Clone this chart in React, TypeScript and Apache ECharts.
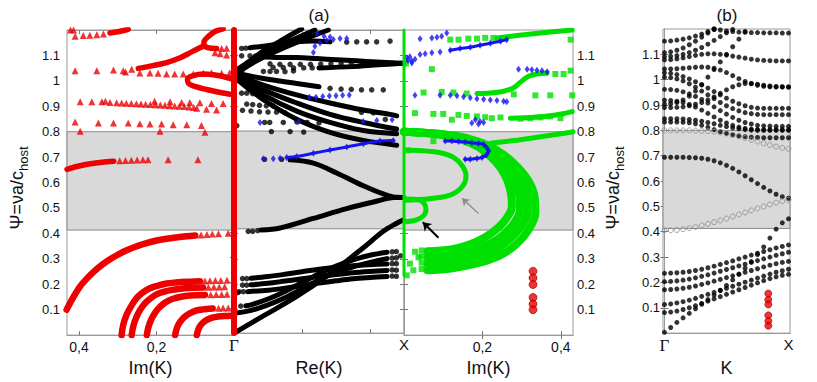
import React, { useEffect, useRef } from "react";
import * as echarts from "echarts";

// ---------------- tick labels / shared values ----------------
const Y_TICKS = [0.1, 0.2, 0.3, 0.4, 0.5, 0.6, 0.7, 0.8, 0.9, 1, 1.1];
const IM_TICKS = [0.2, 0.4];
const RE_TICKS = [0.4, 0.8];
const GX_LABELS = [0, 1];
const BAND = [0.413, 0.8];

// ---------------- panel (a), left: Im(K), red ----------------
const RED_TOP = [[0.32, 1.188], [0.3, 1.193], [0.285, 1.198], [0.273, 1.203]];
const RED_NOSE = [[0.028, 1.205], [0.049, 1.194], [0.066, 1.175], [0.077, 1.156], [0.078, 1.142], [0.068, 1.131], [0.045, 1.127]];
const RED_RISE = [[0.247, 1.049], [0.209, 1.06], [0.174, 1.072], [0.139, 1.091], [0.109, 1.114], [0.088, 1.13], [0.078, 1.138]];
const RED_LOOP = [[0.006, 1.008], [0.028, 1.017], [0.053, 1.024], [0.079, 1.027], [0.105, 1.021], [0.12, 1.008], [0.118, 0.991], [0.101, 0.978], [0.071, 0.966], [0.041, 0.956], [0.011, 0.947]];
const RED_GAP = [[0.431, 0.652], [0.4, 0.665], [0.37, 0.674], [0.34, 0.68], [0.31, 0.684]];
const RED_BIG = [[0.432, 0.1], [0.415, 0.148], [0.398, 0.19], [0.38, 0.222], [0.363, 0.248], [0.34, 0.277], [0.32, 0.298], [0.3, 0.316], [0.277, 0.334], [0.25, 0.35], [0.226, 0.362], [0.2, 0.372], [0.174, 0.379], [0.15, 0.384], [0.122, 0.389], [0.1, 0.392]];
const RED_ARC1 = [[0.29, 0.0], [0.286, 0.04], [0.277, 0.081], [0.265, 0.115], [0.251, 0.146], [0.235, 0.168], [0.217, 0.184], [0.195, 0.195], [0.174, 0.203], [0.15, 0.207], [0.122, 0.21], [0.088, 0.212]];
const RED_ARC2 = [[0.264, 0.0], [0.26, 0.035], [0.252, 0.07], [0.242, 0.1], [0.23, 0.125], [0.215, 0.145], [0.2, 0.16], [0.18, 0.171], [0.16, 0.178], [0.14, 0.182], [0.12, 0.185], [0.08, 0.187]];
const RED_ARC3 = [[0.225, 0.0], [0.221, 0.03], [0.214, 0.06], [0.205, 0.085], [0.195, 0.105], [0.183, 0.122], [0.17, 0.135], [0.155, 0.144], [0.14, 0.15], [0.12, 0.155], [0.1, 0.157], [0.075, 0.158]];
const RED_ARC4 = [[0.152, 0.0], [0.148, 0.025], [0.142, 0.045], [0.134, 0.062], [0.125, 0.075], [0.113, 0.086], [0.1, 0.095], [0.085, 0.1], [0.07, 0.103], [0.055, 0.105]];
const RED_ARC5 = [[0.096, 0.0], [0.093, 0.018], [0.088, 0.035], [0.08, 0.049], [0.07, 0.06], [0.058, 0.068], [0.045, 0.072], [0.032, 0.074], [0.02, 0.075], [0.008, 0.076]];
const RED_TRI_UPPER = [
  [0.422, 1.2], [0.414, 1.2], [0.41, 1.175], [0.389, 1.178], [0.372, 1.179], [0.354, 1.181], [0.337, 1.184],
  [0.032, 1.127], [0.019, 1.128], [0.049, 1.111], [0.036, 1.107], [0.019, 1.102],
  [0.41, 1.04], [0.354, 1.04], [0.311, 1.043], [0.286, 1.04], [0.28, 1.035], [0.264, 1.046],
  [0.243, 1.031], [0.217, 1.031], [0.196, 1.03], [0.174, 1.027], [0.153, 1.027], [0.131, 1.027], [0.105, 1.027], [0.079, 1.03], [0.058, 1.032], [0.032, 1.03], [0.011, 1.032],
  [0.397, 0.918], [0.367, 0.918], [0.341, 0.918], [0.332, 0.92], [0.32, 0.915], [0.205, 0.92], [0.165, 0.918], [0.135, 0.915], [0.114, 0.915], [0.088, 0.914], [0.058, 0.911], [0.028, 0.911], [0.096, 0.892], [0.071, 0.888], [0.045, 0.885],
  [0.303, 0.914], [0.29, 0.913], [0.278, 0.912], [0.265, 0.911], [0.252, 0.91], [0.24, 0.909], [0.228, 0.908], [0.216, 0.907], [0.203, 0.906], [0.19, 0.905], [0.178, 0.904], [0.166, 0.902], [0.153, 0.901], [0.141, 0.9], [0.128, 0.899], [0.116, 0.897], [0.104, 0.895],
  [0.41, 0.838], [0.35, 0.834], [0.311, 0.834], [0.273, 0.834], [0.243, 0.831], [0.217, 0.83], [0.187, 0.83], [0.157, 0.827], [0.122, 0.827], [0.084, 0.824],
  [0.397, 0.802], [0.191, 0.802], [0.075, 0.798],
];
const RED_TRI_LOWER = [
  [0.295, 0.686], [0.28, 0.687], [0.265, 0.688], [0.25, 0.689], [0.235, 0.69], [0.222, 0.69], [0.17, 0.69], [0.093, 0.69],
  [0.085, 0.394], [0.07, 0.396], [0.056, 0.398], [0.04, 0.399], [0.015, 0.401],
  [0.075, 0.213], [0.062, 0.214], [0.048, 0.215], [0.034, 0.215], [0.018, 0.216],
  [0.066, 0.188], [0.052, 0.189], [0.038, 0.189], [0.024, 0.19],
  [0.06, 0.159], [0.046, 0.16], [0.032, 0.16], [0.018, 0.161],
  [0.04, 0.106], [0.028, 0.107], [0.015, 0.107],
];
const RED_GAMMA = [[0, 0], [0, 1.2]];

// ---------------- panel (a), middle: Re(K), black / blue ----------------
const BK_ACOUSTIC = [[0.0, 0.0], [0.173, 0.068], [0.369, 0.145], [0.565, 0.235], [0.761, 0.338], [0.878, 0.403], [0.957, 0.435], [0.996, 0.448]];
const BK_GAP_LOW = [[0.16, 0.408], [0.271, 0.416], [0.467, 0.454], [0.663, 0.493], [0.82, 0.519], [0.957, 0.538], [0.996, 0.537]];
const BK_GAP_HIGH = [[0.33, 0.686], [0.467, 0.673], [0.604, 0.634], [0.761, 0.583], [0.878, 0.551], [0.957, 0.537], [0.996, 0.537]];
const BK_S1 = [[0.07, 0.108], [0.1, 0.112], [0.2, 0.135], [0.3, 0.165], [0.4, 0.2], [0.5, 0.235], [0.6, 0.265], [0.7, 0.29], [0.8, 0.308], [0.9, 0.32]];
const BK_S2 = [[0.0, 0.078], [0.1, 0.09], [0.2, 0.112], [0.3, 0.14], [0.4, 0.175], [0.5, 0.21], [0.6, 0.24], [0.7, 0.262], [0.8, 0.28], [0.9, 0.295]];
const BK_F1 = [[0.1, 0.217], [0.2, 0.224], [0.3, 0.233], [0.4, 0.243], [0.5, 0.253], [0.6, 0.261], [0.7, 0.267], [0.8, 0.271], [0.9, 0.274]];
const BK_F2 = [[0.1, 0.191], [0.2, 0.197], [0.3, 0.206], [0.4, 0.215], [0.5, 0.224], [0.6, 0.232], [0.7, 0.239], [0.8, 0.244], [0.9, 0.248]];
const BK_F3 = [[0.08, 0.164], [0.2, 0.17], [0.3, 0.178], [0.4, 0.188], [0.5, 0.198], [0.6, 0.207], [0.7, 0.215], [0.8, 0.22], [0.9, 0.224]];
const BK_L1 = [[0.025, 1.046], [0.094, 1.078], [0.173, 1.117], [0.271, 1.156], [0.398, 1.205]];
const BK_L2 = [[0.025, 1.04], [0.114, 1.078], [0.212, 1.117], [0.329, 1.156], [0.476, 1.2]];
const BK_L3 = [[0.025, 1.033], [0.133, 1.078], [0.271, 1.123], [0.408, 1.162], [0.555, 1.2]];
const BK_L4 = [[0.094, 1.13], [0.173, 1.136], [0.271, 1.145], [0.369, 1.153], [0.467, 1.156], [0.565, 1.153]];
const BK_L5 = [[0.153, 1.095], [0.271, 1.091], [0.369, 1.091], [0.486, 1.087], [0.604, 1.082], [0.722, 1.078], [0.839, 1.073], [0.957, 1.069], [0.996, 1.068]];
const BK_L6 = [[0.5, 1.05], [0.7, 1.055], [0.85, 1.062], [0.996, 1.068]];
const BK_D1 = [[0.025, 1.027], [0.173, 1.008], [0.369, 0.988], [0.5, 0.975]];
const BK_D2 = [[0.025, 1.02], [0.173, 0.982], [0.369, 0.943], [0.565, 0.911], [0.761, 0.883], [0.918, 0.866], [0.957, 0.86]];
const BK_D3 = [[0.025, 1.014], [0.173, 0.963], [0.369, 0.911], [0.565, 0.866], [0.761, 0.834], [0.957, 0.808]];
const BK_D4 = [[0.025, 1.008], [0.173, 0.943], [0.369, 0.879], [0.565, 0.834], [0.761, 0.802], [0.957, 0.789]];
const BK_D5 = [[0.025, 1.001], [0.173, 0.924], [0.369, 0.847], [0.565, 0.795], [0.761, 0.763], [0.957, 0.744]];
const BK_DOTS = [
  [0.084, 0.403], [0.11, 0.403], [0.14, 0.406], [0.18, 0.688], [0.28, 0.688],
  [0.05, 0.216], [0.075, 0.216], [0.05, 0.19], [0.075, 0.19], [0.03, 0.164], [0.055, 0.164], [0.04, 0.107], [0.02, 0.16],
  [0.93, 0.322], [0.955, 0.323], [0.93, 0.297], [0.955, 0.298], [0.93, 0.275], [0.955, 0.275], [0.93, 0.25], [0.955, 0.249], [0.93, 0.226], [0.955, 0.225], [0.98, 0.306],
  [0.045, 1.127], [0.07, 1.128], [0.663, 1.152], [0.722, 1.153], [0.78, 1.153], [0.839, 1.153], [0.918, 1.156],
  [0.045, 1.098], [0.094, 1.098], [0.125, 1.097],
  [0.212, 1.066], [0.27, 1.064], [0.33, 1.064], [0.39, 1.064], [0.45, 1.064], [0.51, 1.065], [0.57, 1.066], [0.63, 1.066], [0.69, 1.066], [0.75, 1.066], [0.81, 1.066], [0.87, 1.068], [0.93, 1.068],
  [0.23, 1.052], [0.29, 1.051], [0.35, 1.05], [0.41, 1.05], [0.46, 1.05],
  [0.045, 1.036], [0.173, 1.036], [0.212, 1.036], [0.25, 1.036], [0.3, 1.035], [0.35, 1.038],
  [0.565, 0.969], [0.63, 0.966], [0.69, 0.965], [0.75, 0.963], [0.81, 0.963], [0.878, 0.963],
  [0.045, 0.95], [0.075, 0.95], [0.11, 0.948],
  [0.075, 0.907], [0.11, 0.905], [0.15, 0.902], [0.19, 0.9], [0.23, 0.9],
  [0.05, 0.882], [0.1, 0.879], [0.15, 0.876], [0.2, 0.875], [0.25, 0.875], [0.3, 0.872], [0.75, 0.874], [0.82, 0.872], [0.89, 0.846],
  [0.18, 0.834], [0.21, 0.834], [0.29, 0.834], [0.37, 0.836], [0.43, 0.834], [0.5, 0.832],
  [0.22, 0.798], [0.33, 0.798], [0.41, 0.796], [0.016, 0.821],
];
const BL_MID_TOP = [[0.467, 1.111], [0.476, 1.136], [0.506, 1.149], [0.545, 1.158], [0.584, 1.162], [0.624, 1.166], [0.663, 1.166], [0.45, 1.205], [0.49, 1.184], [0.53, 1.175], [0.565, 1.172]];
const BL_MID_ROW = [[0.443, 0.934], [0.482, 0.934], [0.522, 0.937], [0.561, 0.939], [0.6, 0.94], [0.639, 0.942], [0.678, 0.943], [0.153, 0.834], [0.38, 0.838], [0.76, 0.838], [0.84, 0.842], [0.93, 0.845]];
const BL_MID_GAP = [[0.172, 0.69], [0.231, 0.69], [0.271, 0.692], [0.31, 0.695], [0.369, 0.699], [0.467, 0.712], [0.565, 0.725], [0.663, 0.737], [0.761, 0.75], [0.859, 0.761], [0.937, 0.763]];

// ---------------- panel (a), right: Im(K), green / blue ----------------
const GR_X_LINE = [[0, 0.235], [0, 1.2]];
const GR_TOP = [[0.237, 1.169], [0.288, 1.178], [0.348, 1.188], [0.429, 1.2]];
const GR_S = [[0.186, 0.95], [0.22, 0.952], [0.254, 0.959], [0.28, 0.973], [0.297, 0.995], [0.318, 1.018], [0.339, 1.027], [0.365, 1.03]];
const GR_087 = [[0.271, 0.853], [0.32, 0.856], [0.37, 0.862], [0.41, 0.872], [0.429, 0.879]];
const GR_B = [[0.22, 0.755], [0.28, 0.765], [0.34, 0.778], [0.4, 0.792], [0.431, 0.8]];
const GR_BAND1 = [[0.06, 0.255], [0.12, 0.262], [0.18, 0.28], [0.24, 0.31], [0.285, 0.355], [0.318, 0.415], [0.335, 0.48], [0.333, 0.545], [0.318, 0.605], [0.29, 0.66], [0.255, 0.708], [0.215, 0.745], [0.16, 0.775], [0.09, 0.792], [0.0, 0.8]];
const GR_BAND2 = [[0.06, 0.28], [0.12, 0.287], [0.18, 0.305], [0.23, 0.335], [0.27, 0.378], [0.3, 0.43], [0.315, 0.485], [0.313, 0.545], [0.3, 0.605], [0.275, 0.66], [0.243, 0.706], [0.205, 0.743], [0.155, 0.773], [0.09, 0.791], [0.0, 0.8]];
const GR_BAND3 = [[0.06, 0.305], [0.12, 0.312], [0.17, 0.33], [0.22, 0.36], [0.257, 0.4], [0.283, 0.445], [0.296, 0.495], [0.294, 0.55], [0.282, 0.607], [0.26, 0.66], [0.232, 0.705], [0.197, 0.742], [0.15, 0.772], [0.09, 0.79], [0.0, 0.8]];
const GR_BAND4 = [[0.06, 0.33], [0.12, 0.337], [0.165, 0.355], [0.207, 0.385], [0.24, 0.422], [0.263, 0.463], [0.275, 0.505], [0.273, 0.555], [0.263, 0.61], [0.245, 0.66], [0.22, 0.703], [0.19, 0.74], [0.145, 0.77], [0.09, 0.789], [0.0, 0.8]];
const GR_INNER_C = [[0.01, 0.727], [0.04, 0.726], [0.09, 0.718], [0.126, 0.699], [0.148, 0.667], [0.158, 0.628], [0.155, 0.6], [0.14, 0.57], [0.118, 0.551], [0.075, 0.538], [0.032, 0.532], [0.005, 0.53]];
const GR_SMALL = [[0.005, 0.535], [0.035, 0.533], [0.05, 0.52], [0.056, 0.495], [0.05, 0.47], [0.03, 0.452], [0.005, 0.446]];
const GR_SQUARES = [
  [0.118, 1.162], [0.139, 1.162], [0.164, 1.166], [0.186, 1.166], [0.207, 1.169], [0.228, 1.169], [0.425, 1.162], [0.005, 1.068],
  [0.05, 0.954], [0.096, 0.956], [0.126, 0.954], [0.16, 0.95], [0.386, 1.027], [0.407, 1.027], [0.425, 1.04], [0.071, 1.046],
  [0.28, 0.947], [0.335, 0.943], [0.373, 0.943], [0.429, 0.943],
  [0.028, 0.873], [0.075, 0.87], [0.1, 0.87], [0.122, 0.847], [0.139, 0.866], [0.16, 0.862], [0.186, 0.86], [0.207, 0.857], [0.224, 0.853], [0.246, 0.856], [0.297, 0.851], [0.322, 0.853], [0.348, 0.856], [0.373, 0.86], [0.399, 0.853],
  [0.075, 0.763], [0.2, 0.757], [0.01, 0.727],
  [0.028, 0.328], [0.037, 0.306], [0.015, 0.281], [0.024, 0.255], [0.007, 0.235], [0.045, 0.333], [0.045, 0.31], [0.045, 0.285], [0.045, 0.26],
];
const BL_R_CURL = [[0.041, 1.166], [0.071, 1.169], [0.084, 1.171], [0.096, 1.175], [0.109, 1.188], [0.118, 1.205]];
const BL_R_LONG = [[0.118, 1.12], [0.143, 1.127], [0.169, 1.132], [0.194, 1.14], [0.22, 1.148], [0.246, 1.156], [0.262, 1.162]];
const BL_R_GAP = [[0.105, 0.763], [0.122, 0.763], [0.139, 0.761], [0.156, 0.759], [0.173, 0.757], [0.19, 0.754], [0.203, 0.75], [0.211, 0.737], [0.216, 0.724], [0.21, 0.708], [0.199, 0.699], [0.186, 0.695], [0.169, 0.692], [0.156, 0.692]];
const BL_R_DIAMONDS = [
  [0.007, 1.091], [0.02, 1.078], [0.028, 1.085], [0.041, 1.104], [0.054, 1.107], [0.071, 1.111], [0.092, 1.113], [0.01, 1.08], [0.02, 1.07], [0.015, 1.095],
  [0.292, 1.046], [0.314, 1.046], [0.326, 1.044], [0.339, 1.042], [0.352, 1.04], [0.365, 1.036],
  [0.028, 0.943], [0.092, 0.943], [0.118, 0.943], [0.135, 0.941], [0.152, 0.937], [0.169, 0.934], [0.186, 0.93], [0.203, 0.928], [0.22, 0.925], [0.237, 0.923], [0.254, 0.92], [0.262, 0.918],
  [0.173, 0.834], [0.182, 0.847], [0.194, 0.84], [0.203, 0.836], [0.19, 0.83],
];
const RED_CIRCLES_A = [[0.329, 0.251], [0.329, 0.225], [0.329, 0.199], [0.329, 0.148], [0.329, 0.122], [0.329, 0.1]];
const ARROW_BLACK = [[0.088, 0.383], [0.048, 0.444]];
const ARROW_GRAY = [[0.19, 0.478], [0.148, 0.538]];

// ---------------- panel (b): K from Γ to X ----------------
const T_B = [0, 0.05, 0.1, 0.15, 0.2, 0.25, 0.3, 0.35, 0.4, 0.45, 0.5, 0.55, 0.6, 0.65, 0.7, 0.75, 0.8, 0.85, 0.9, 0.95, 1];
const B_AC = [0.003, 0.022, 0.042, 0.06, 0.078, 0.096, 0.114, 0.132, 0.15, 0.168, 0.188, 0.21, 0.232, 0.256, 0.282, 0.31, 0.34, 0.375, 0.41, 0.435, 0.451];
const B_L2 = [0.081, 0.083, 0.087, 0.093, 0.1, 0.108, 0.117, 0.126, 0.135, 0.144, 0.153, 0.162, 0.171, 0.18, 0.189, 0.198, 0.207, 0.215, 0.222, 0.228, 0.232];
const B_L3 = [0.113, 0.115, 0.119, 0.124, 0.13, 0.137, 0.145, 0.153, 0.161, 0.169, 0.177, 0.185, 0.193, 0.201, 0.209, 0.217, 0.225, 0.233, 0.24, 0.246, 0.252];
const B_L4 = [0.171, 0.172, 0.174, 0.177, 0.181, 0.186, 0.192, 0.198, 0.205, 0.212, 0.219, 0.226, 0.233, 0.24, 0.247, 0.254, 0.261, 0.268, 0.274, 0.279, 0.283];
const B_L5 = [0.203, 0.204, 0.206, 0.209, 0.213, 0.218, 0.224, 0.23, 0.237, 0.244, 0.251, 0.258, 0.265, 0.272, 0.279, 0.286, 0.293, 0.3, 0.307, 0.313, 0.319];
const B_L6 = [0.236, 0.237, 0.238, 0.24, 0.243, 0.247, 0.252, 0.258, 0.264, 0.271, 0.278, 0.285, 0.293, 0.3, 0.308, 0.315, 0.322, 0.329, 0.336, 0.342, 0.348];
const B_GAP_BLACK = [0.694, 0.694, 0.694, 0.694, 0.693, 0.692, 0.69, 0.686, 0.68, 0.672, 0.662, 0.65, 0.636, 0.621, 0.605, 0.59, 0.575, 0.561, 0.548, 0.538, 0.532];
const B_GAP_OPEN_HI = [0.8, 0.8, 0.8, 0.8, 0.8, 0.799, 0.798, 0.797, 0.795, 0.792, 0.788, 0.783, 0.777, 0.77, 0.763, 0.756, 0.749, 0.742, 0.736, 0.731, 0.727];
const B_GAP_OPEN_LO = [0.406, 0.406, 0.407, 0.41, 0.414, 0.419, 0.425, 0.431, 0.438, 0.445, 0.452, 0.46, 0.468, 0.476, 0.484, 0.492, 0.5, 0.508, 0.515, 0.521, 0.526];
const B_UA = [1.152, 1.153, 1.156, 1.16, 1.165, 1.172, 1.18, 1.19, 1.2];
const B_UB = [1.107, 1.11, 1.116, 1.125, 1.138, 1.152, 1.168, 1.184, 1.198];
const B_UC = [1.091, 1.092, 1.095, 1.1, 1.107, 1.116, 1.127, 1.14, 1.155, 1.17, 1.185, 1.198];
const B_UD = [1.2, 1.196, 1.192, 1.19, 1.188, 1.187, 1.186, 1.186, 1.185, 1.185, 1.185, 1.184, 1.184];
const B_UE = [1.078, 1.079, 1.082, 1.086, 1.091, 1.096, 1.1, 1.102, 1.102, 1.1, 1.097, 1.093, 1.089, 1.085, 1.081, 1.078, 1.076, 1.075, 1.074, 1.074, 1.074];
const B_UF = [1.042, 1.042, 1.043, 1.045, 1.047, 1.049, 1.05, 1.049, 1.045, 1.038, 1.028, 1.016, 1.004, 0.993, 0.984, 0.978, 0.974, 0.972, 0.971, 0.971, 0.971];
const B_UG = [1.027, 1.025, 1.02, 1.012, 1.003, 0.992, 0.98, 0.967, 0.953, 0.94, 0.927, 0.915, 0.905, 0.897, 0.891, 0.888, 0.887, 0.887, 0.887, 0.887, 0.887];
const B_UH = [1.01, 1.008, 1.003, 0.995, 0.984, 0.97, 0.955, 0.94, 0.925, 0.91, 0.897, 0.886, 0.877, 0.87, 0.866, 0.863, 0.862, 0.862, 0.862, 0.862, 0.862];
const B_UI = [0.962, 0.961, 0.958, 0.952, 0.944, 0.934, 0.922, 0.908, 0.893, 0.878, 0.864, 0.851, 0.84, 0.831, 0.825, 0.82, 0.818, 0.817, 0.816, 0.816, 0.816];
const B_UJ = [0.919, 0.918, 0.915, 0.91, 0.902, 0.892, 0.88, 0.867, 0.853, 0.84, 0.829, 0.82, 0.813, 0.808, 0.805, 0.804, 0.803, 0.803, 0.803, 0.803, 0.803];
const B_UK = [0.903, 0.905, 0.91, 0.92, 0.935, 0.955, 0.98, 1.01, 1.04, 1.07, 1.1, 1.13, 1.16, 1.19];
const B_UL = [0.89, 0.89, 0.891, 0.893, 0.897, 0.903, 0.91, 0.92, 0.932, 0.946, 0.96, 0.972, 0.98, 0.985, 0.985, 0.982, 0.978, 0.975, 0.973, 0.972, 0.971];
const B_UM = [0.846, 0.846, 0.846, 0.845, 0.843, 0.84, 0.836, 0.831, 0.826, 0.82, 0.815, 0.81, 0.806, 0.803, 0.801, 0.8, 0.8, 0.8, 0.8, 0.8, 0.8];
const B_UN = [0.833, 0.833, 0.833, 0.832, 0.83, 0.826, 0.82, 0.812, 0.803, 0.795, 0.788, 0.782, 0.778, 0.775, 0.773, 0.772, 0.771, 0.771, 0.771, 0.771, 0.771];
const B_BLACK_CURVES = [
  { start: 0, vals: B_AC }, { start: 0, vals: B_L2 }, { start: 0, vals: B_L3 }, { start: 0, vals: B_L4 },
  { start: 0, vals: B_L5 }, { start: 0, vals: B_L6 }, { start: 0, vals: B_GAP_BLACK },
  { start: 0, vals: B_UA }, { start: 0, vals: B_UB }, { start: 0, vals: B_UC }, { start: 8, vals: B_UD },
  { start: 0, vals: B_UE }, { start: 0, vals: B_UF }, { start: 0, vals: B_UG }, { start: 0, vals: B_UH },
  { start: 0, vals: B_UI }, { start: 0, vals: B_UJ }, { start: 0, vals: B_UK }, { start: 0, vals: B_UL },
  { start: 0, vals: B_UM }, { start: 0, vals: B_UN },
];
const RED_CIRCLES_B = [[0.837, 0.156], [0.837, 0.132], [0.837, 0.113], [0.837, 0.07], [0.837, 0.048], [0.837, 0.029]];

// ---------------- styling ----------------
const FONT = "'Liberation Sans', Arial, Helvetica, sans-serif";
const RED = "#ee0000";
const GREEN = "#00e000";
const BLUE = "#1414f0";
const FRAME = "#9a9a9a";
const XI = [0, 1, 2, 3];
const YI = [0, 1, 2, 4];

function zipB(start: number, vals: number[]) {
  return vals.map((v, i) => [T_B[start + i], v]);
}

function line(g: number, data: number[][], color: string, width: number, z = 2, extra: any = {}) {
  return {
    type: "line", xAxisIndex: XI[g], yAxisIndex: YI[g], data, smooth: 0.35, symbol: "none", showSymbol: false,
    lineStyle: { color, width, cap: "round", join: "round" }, z, silent: true, ...extra,
  };
}
function dots(g: number, data: number[][], symbol: string, size: any, color: string, z = 3, extra: any = {}) {
  return {
    type: "scatter", xAxisIndex: XI[g], yAxisIndex: YI[g], data, symbol, symbolSize: size,
    itemStyle: { color }, z, silent: true, ...extra,
  };
}
function band(g: number) {
  return {
    type: "line", xAxisIndex: XI[g], yAxisIndex: YI[g], data: [], z: 1, silent: true, symbol: "none",
    markArea: {
      silent: true, label: { show: false },
      itemStyle: { color: "#d9d9d9", borderColor: "#8a8a8a", borderWidth: 1 },
      data: [[{ yAxis: BAND[0] }, { yAxis: BAND[1] }]],
    },
  };
}

const tickLabel = { fontFamily: FONT, fontSize: 13, color: "#111" };
const nameStyle = { fontFamily: FONT, fontSize: 18, color: "#111" };

function yAx(grid: number, position: string, showLabel: boolean, margin: number) {
  return {
    type: "value", gridIndex: grid, position, min: 0, max: 1.2, interval: 0.1,
    splitLine: { show: false },
    axisLine: { show: true, lineStyle: { color: FRAME } },
    axisTick: { show: true, inside: true, length: 4, lineStyle: { color: "#777" }, customValues: Y_TICKS },
    axisLabel: {
      show: showLabel, margin, ...tickLabel, customValues: Y_TICKS,
      formatter: (v: number) => (v < 0.05 || v > 1.15 ? "" : String(Math.round(v * 10) / 10)),
    },
  };
}
const comma = (v: number) => (Math.abs(v - 0.2) < 1e-6 ? "0,2" : Math.abs(v - 0.4) < 1e-6 ? "0,4" : "");
const gx = (v: number) => (Math.abs(v) < 1e-6 ? "{g|Γ}" : Math.abs(v - 1) < 1e-6 ? "X" : "");
const gxRich = { g: { fontFamily: "'Liberation Serif', serif", fontSize: 17, color: "#111" } };

function xAx(grid: number, opts: any) {
  return {
    type: "value", gridIndex: grid, splitLine: { show: false },
    axisLine: { show: true, lineStyle: { color: FRAME } },
    ...opts,
  };
}

function buildOption() {
  const xAxis = [
    xAx(0, {
      min: 0, max: 0.431, interval: 0.2, inverse: true, position: "bottom",
      axisTick: { inside: true, length: 4, customValues: IM_TICKS, lineStyle: { color: "#777" } },
      axisLabel: { customValues: IM_TICKS, formatter: comma, margin: 5, ...tickLabel, fontSize: 14 },
      name: "Im(K)", nameLocation: "middle", nameGap: 22, nameTextStyle: nameStyle,
    }),
    xAx(1, {
      min: 0, max: 1, interval: 0.2, position: "bottom",
      axisTick: { inside: true, length: 4, customValues: RE_TICKS, lineStyle: { color: "#777" } },
      axisLabel: { customValues: GX_LABELS, formatter: gx, margin: 4, ...tickLabel, fontSize: 15, rich: gxRich },
      name: "Re(K)", nameLocation: "middle", nameGap: 9, nameTextStyle: nameStyle,
    }),
    xAx(2, {
      min: 0, max: 0.431, interval: 0.2, position: "bottom",
      axisTick: { inside: true, length: 4, customValues: IM_TICKS, lineStyle: { color: "#777" } },
      axisLabel: { customValues: IM_TICKS, formatter: comma, margin: 5, ...tickLabel, fontSize: 14 },
      name: "Im(K)", nameLocation: "middle", nameGap: 22, nameTextStyle: nameStyle,
    }),
    xAx(3, {
      min: -0.012, max: 1.012, position: "bottom",
      axisTick: { show: false },
      axisLabel: { customValues: GX_LABELS, formatter: gx, margin: 4, ...tickLabel, fontSize: 15, rich: gxRich },
      name: "K", nameLocation: "middle", nameGap: 20, nameTextStyle: nameStyle,
    }),
    xAx(0, { min: 0, max: 0.431, interval: 0.2, inverse: true, position: "top", axisLabel: { show: false }, axisTick: { inside: true, length: 4, customValues: IM_TICKS, lineStyle: { color: "#777" } } }),
    xAx(1, { min: 0, max: 1, interval: 0.2, position: "top", axisLabel: { show: false }, axisTick: { inside: true, length: 4, customValues: RE_TICKS, lineStyle: { color: "#777" } } }),
    xAx(2, { min: 0, max: 0.431, interval: 0.2, position: "top", axisLabel: { show: false }, axisTick: { inside: true, length: 4, customValues: IM_TICKS, lineStyle: { color: "#777" } } }),
    xAx(3, { min: -0.012, max: 1.012, position: "top", axisLabel: { show: false }, axisTick: { show: false } }),
  ];
  const yAxis = [
    yAx(0, "left", true, 7),
    yAx(1, "right", false, 4),
    yAx(2, "right", true, 4),
    yAx(2, "left", false, 4),
    yAx(3, "left", true, 3),
    yAx(3, "right", false, 4),
  ];

  const series: any[] = [band(0), band(1), band(2), band(3)];

  // left red panel
  [RED_TOP, RED_NOSE, RED_RISE, RED_LOOP, RED_GAP].forEach((d) => series.push(line(0, d, RED, 5.5)));
  [RED_BIG, RED_ARC1, RED_ARC2, RED_ARC3, RED_ARC4, RED_ARC5].forEach((d) => series.push(line(0, d, RED, 6.5)));
  series.push(dots(0, RED_TRI_UPPER, "triangle", 7, RED));
  series.push(dots(0, RED_TRI_LOWER, "triangle", 7, RED));

  // middle black/blue panel
  [BK_ACOUSTIC, BK_GAP_LOW, BK_GAP_HIGH, BK_S1, BK_S2, BK_F1, BK_F2, BK_F3].forEach((d) => series.push(line(1, d, "#000", 5)));
  [BK_L1, BK_L2, BK_L3, BK_L4, BK_L5, BK_L6, BK_D1, BK_D2, BK_D3, BK_D4, BK_D5].forEach((d) => series.push(line(1, d, "#000", 5)));
  series.push(dots(1, BK_DOTS, "circle", 5.5, "#000"));
  series.push(line(1, BL_MID_GAP.slice(3), BLUE, 3, 4));
  series.push(dots(1, BL_MID_GAP, "diamond", [5, 7], BLUE, 4));
  series.push(dots(1, BL_MID_TOP, "diamond", [5, 7], BLUE, 4));
  series.push(dots(1, BL_MID_ROW, "diamond", [5, 7], BLUE, 4));
  series.push(line(1, RED_GAMMA, RED, 6, 5, { clip: false }));

  // right green/blue panel
  [GR_BAND1, GR_BAND2, GR_BAND3, GR_BAND4].forEach((d) => series.push(line(2, d, GREEN, 8)));
  [GR_TOP, GR_S, GR_087, GR_B, GR_INNER_C, GR_SMALL].forEach((d) => series.push(line(2, d, GREEN, 5)));
  series.push(dots(2, GR_SQUARES, "rect", 6, GREEN));
  series.push(line(2, BL_R_LONG, BLUE, 3, 4));
  series.push(line(2, BL_R_GAP, BLUE, 3, 4));
  series.push(dots(2, BL_R_CURL, "diamond", [5, 7], BLUE, 4));
  series.push(dots(2, BL_R_LONG, "diamond", [5, 7], BLUE, 4));
  series.push(dots(2, BL_R_GAP, "diamond", [5, 7], BLUE, 4));
  series.push(dots(2, BL_R_DIAMONDS, "diamond", [5, 7], BLUE, 4));
  series.push(line(2, GR_X_LINE, GREEN, 3, 5, { clip: false, smooth: false }));
  series.push(dots(2, RED_CIRCLES_A, "circle", 8, RED, 4, { itemStyle: { color: RED, borderColor: "#900", borderWidth: 0.8 } }));
  series.push({
    type: "lines", coordinateSystem: "cartesian2d", xAxisIndex: 2, yAxisIndex: 2, z: 6, silent: true,
    symbol: ["none", "arrow"], symbolSize: 8,
    lineStyle: { color: "#000", width: 2, opacity: 1 },
    data: [{ coords: ARROW_BLACK }],
  });
  series.push({
    type: "lines", coordinateSystem: "cartesian2d", xAxisIndex: 2, yAxisIndex: 2, z: 6, silent: true,
    symbol: ["none", "arrow"], symbolSize: 7,
    lineStyle: { color: "#8c8c8c", width: 1.3, opacity: 1 },
    data: [{ coords: ARROW_GRAY }],
  });

  // panel (b)
  B_BLACK_CURVES.forEach((c) => series.push(dots(3, zipB(c.start, c.vals), "circle", 5, "#000", 3, { clip: false })));
  [B_GAP_OPEN_HI, B_GAP_OPEN_LO].forEach((vals) =>
    series.push(dots(3, zipB(0, vals), "circle", 5, "#d9d9d9", 3, { clip: false, itemStyle: { color: "rgba(0,0,0,0)", borderColor: "#8c8c8c", borderWidth: 1 } }))
  );
  series.push(dots(3, RED_CIRCLES_B, "circle", 7, RED, 4, { itemStyle: { color: RED, borderColor: "#900", borderWidth: 0.8 } }));

  const psiRich = {
    m: { fontFamily: FONT, fontSize: 18, fill: "#111", color: "#111" },
    s: { fontFamily: FONT, fontSize: 13, fill: "#111", color: "#111", padding: [12, 0, 0, 0] },
  };
  const psi = (x: number) => ({
    type: "text", x, y: 188, rotation: Math.PI / 2, silent: true,
    style: { text: "{m|Ψ=νa/c}{s|host}", rich: psiRich, align: "center", verticalAlign: "middle", textAlign: "center", textVerticalAlign: "middle", fill: "#111" },
  });
  const title = (text: string, x: number) => ({
    type: "text", x, y: 15, silent: true,
    style: { text, font: `17px ${FONT}`, fill: "#111", align: "center", verticalAlign: "middle", textAlign: "center", textVerticalAlign: "middle" },
  });

  return {
    animation: false,
    backgroundColor: "#ffffff",
    grid: [
      { left: 67, top: 30, width: 167, height: 311, show: true, borderColor: FRAME, borderWidth: 1, backgroundColor: "#fff" },
      { left: 234, top: 30, width: 170, height: 311, show: true, borderColor: FRAME, borderWidth: 1, backgroundColor: "#fff" },
      { left: 404, top: 30, width: 169, height: 311, show: true, borderColor: FRAME, borderWidth: 1, backgroundColor: "#fff" },
      { left: 663, top: 29, width: 127, height: 310, show: true, borderColor: FRAME, borderWidth: 1, backgroundColor: "#fff" },
    ],
    xAxis,
    yAxis,
    series,
    graphic: [title("(a)", 319), title("(b)", 727), psi(17), psi(613)],
  };
}

export default function App() {
  const ref = useRef<HTMLDivElement>(null);
  useEffect(() => {
    const chart = echarts.init(ref.current as HTMLDivElement, null, { renderer: "svg" });
    chart.setOption(buildOption() as any);
    return () => chart.dispose();
  }, []);
  return (
    <div
      ref={ref}
      style={{ position: "fixed", left: 0, top: 0, width: 817, height: 382, background: "#fff" }}
    />
  );
}
